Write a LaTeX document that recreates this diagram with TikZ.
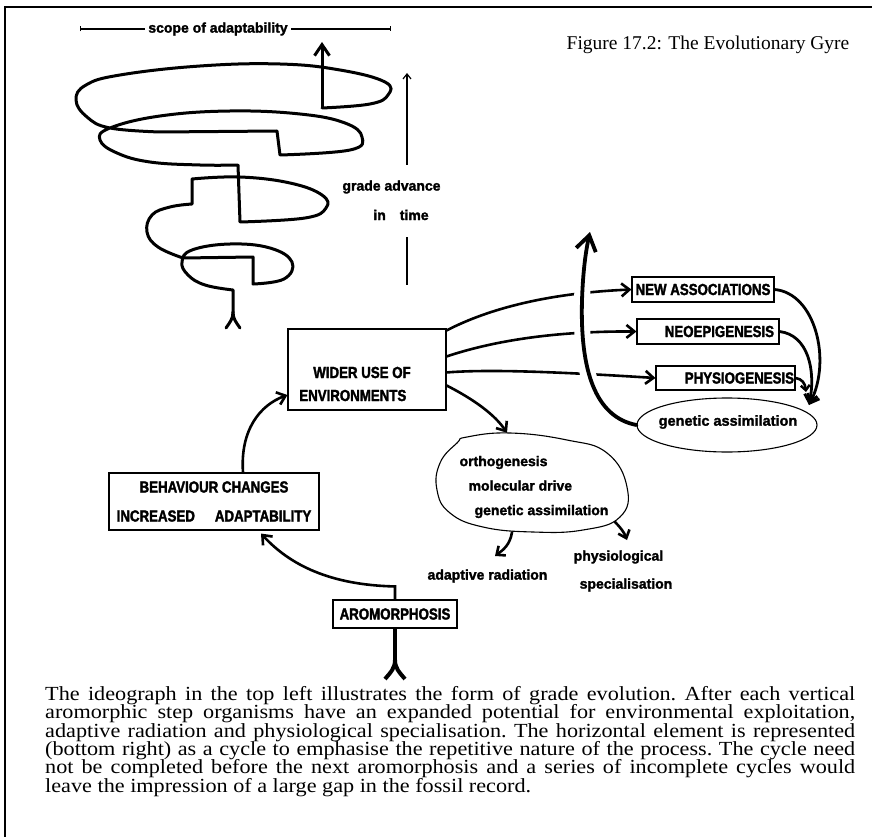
\documentclass[tikz,border=0pt]{standalone}
\usepackage{fontspec}
\setmainfont{Liberation Serif}
\newfontfamily\capsans{Liberation Sans}[FakeStretch=0.83,FakeBold=2]
\newfontfamily\lowsans{Liberation Sans}[FakeBold=1.8]
\newfontfamily\captserif{Liberation Serif}[FakeStretch=1.11]
\usetikzlibrary{arrows.meta,shapes.geometric}
\begin{document}
\begin{tikzpicture}[x=1pt,y=-1pt,
  box/.style={draw,line width=1.1pt,inner sep=0pt},
  oval/.style={draw,ellipse,line width=1.1pt,inner sep=0pt},
  caps/.style={font=\capsans\bfseries\fontsize{16}{18}\selectfont},
  lows/.style={font=\lowsans\bfseries\fontsize{14}{17}\selectfont,inner sep=1pt},
  conn/.style={line width=2.6pt,line cap=round,-{Straight Barb[length=8pt,width=13pt,line width=2.6pt]}},
  conntwo/.style={line width=2.8pt,line cap=round,-{Straight Barb[length=8pt,width=13pt,line width=2.8pt]}},
  bigarrow/.style={line width=3.8pt,line cap=round,-{Straight Barb[length=15pt,width=20pt,line width=3.8pt]},
     preaction={draw=white,line width=16pt,arrows=-,shorten <=14pt,shorten >=20pt}},
  gyre/.style={line width=3pt,line join=round,line cap=round},
  gyrearrow/.style={line width=3pt,-{Straight Barb[length=11pt,width=15pt,line width=3pt]}},
  thinline/.style={line width=1.2pt},
  stem/.style={line width=4pt}]
\useasboundingbox (0,0) rectangle (872,837);

% frame
\coordinate (frBL) at (5,837);
\coordinate (frTL) at (5,7);
\coordinate (frTR) at (872,7);
\draw[line width=2pt] (frBL) -- (frTL) -- (frTR);

% title
\node[font=\fontsize{19.5}{23}\selectfont] (title) at (708,45) {Figure 17.2: The Evolutionary Gyre};

% scope of adaptability
\coordinate (scL) at (80,29);
\coordinate (scR) at (391,29);
\draw[thinline,{Bar[width=5pt]}-{Bar[width=5pt]}] (scL) -- (scR);
\node[lows,fill=white,inner xsep=3pt] (scope) at (218,29) {scope of adaptability};

% gyre
\draw[gyre] (233,312) -- (233,290)
 -- plot[smooth,tension=0.7] coordinates {(233,290) (205,285) (188,275) (182,262) (192,250) (230,244) (270,248) (292,262) (284,279) (253,284)}
 -- (253,257) -- (183,258)
 -- plot[smooth,tension=0.7] coordinates {(183,258) (158,247) (147,232) (152,215) (170,207) (192,204)}
 -- (192,179)
 -- plot[smooth,tension=0.7] coordinates {(192,179) (240,177) (290,183) (322,195) (326,208) (305,218) (240,222)}
 -- (238,165)
 -- plot[smooth,tension=0.7] coordinates {(238,165) (200,165) (150,162) (117,153) (100,140) (110,128) (160,116) (230,111) (300,114) (345,123) (362,137) (350,150) (280,155)}
 -- (277,131) -- (160,132)
 -- plot[smooth,tension=0.7] coordinates {(160,132) (110,128) (87,117) (76,100) (86,85) (120,75) (200,66) (280,64) (340,70) (385,82) (388,95) (370,104) (322,108)};
\coordinate (gyA) at (322,108);
\coordinate (gyB) at (322,42);
\draw[gyrearrow] (gyA) -- (gyB);
\coordinate (gyfork) at (233,312);
\draw[gyre] (gyfork) .. controls (233,319) and (230,322) .. (226,328);
\draw[gyre] (gyfork) .. controls (233,319) and (236,322) .. (240,328);

% grade advance
\node[lows] (grade) at (391.5,187) {grade advance};
\node[lows] (intime) at (401,215) {in\hspace{14pt}time};
\coordinate (gaA) at (407,165);
\coordinate (gaB) at (407,73);
\coordinate (gaC) at (407,237);
\coordinate (gaD) at (407,285);
\draw[thinline,-{Straight Barb[length=5pt,width=8pt]}] (gaA) -- (gaB);
\draw[thinline] (gaC) -- (gaD);

% boxes
\node[box,minimum width=158pt,minimum height=81pt] (wider) at (367,369.5) {};
\node[caps,align=left,font=\capsans\bfseries\fontsize{16}{23}\selectfont] (widert) at (355,384) {\hspace*{14pt}WIDER USE OF\\ENVIRONMENTS};
\node[box,caps,align=center,minimum width=210pt,minimum height=57pt,font=\capsans\bfseries\fontsize{16}{29}\selectfont] (behav) at (214,501.5) {BEHAVIOUR CHANGES\\INCREASED\hspace{20pt}ADAPTABILITY};
\node[box,caps,minimum width=124pt,minimum height=28pt] (arom) at (395,614) {AROMORPHOSIS};
\node[box,caps,minimum width=142pt,minimum height=25pt] (newa) at (703,289.5) {NEW ASSOCIATIONS};
\node[box,caps,minimum width=142pt,minimum height=25pt,text width=132pt,align=right] (neo) at (708,331.5) {NEOEPIGENESIS};
\node[box,caps,minimum width=139pt,minimum height=24pt,text width=137pt,align=right] (phys) at (725.5,378) {PHYSIOGENESIS};

% ellipses
\node[oval,minimum width=180pt,minimum height=54pt] (gen) at (727,425) {};
\node[lows,font=\lowsans\bfseries\fontsize{14.5}{17}\selectfont] (gent) at (728,422) {genetic assimilation};
\node[ellipse,inner sep=0pt,minimum width=193pt,minimum height=98pt] (orth) at (531,483) {};
\draw[line width=1.1pt] plot[smooth cycle,tension=0.75] coordinates {(467,437) (510,433) (567,440) (607,453) (627,487) (620,517) (583,530) (533,532) (483,527) (450,513) (437,490) (440,463) (457,443)};
\node[lows,align=left,font=\lowsans\bfseries\fontsize{14}{24.5}\selectfont] (ortht) at (534,487) {orthogenesis\\\hspace*{9pt}molecular drive\\\hspace*{15pt}genetic assimilation};

% outcome labels
\node[lows] (adapt) at (487.5,576) {adaptive radiation};
\node[lows,align=left,font=\lowsans\bfseries\fontsize{14}{28}\selectfont] (physl) at (623,571) {physiological\\\hspace*{6pt}specialisation};

% cycle connectors
\draw[conn] ([xshift=29pt]behav.north) .. controls (240,430) and (260,405) .. ([yshift=-25.5pt]wider.west);
\draw[conn] (arom.north) -- ++(0,-13) .. controls (330,585) and (290,565) .. ([xshift=47pt,yshift=-3pt]behav.south);
\coordinate (aromfork) at (395,660);
\draw[stem] (arom.south) -- (aromfork);
\draw[stem] (aromfork) .. controls (395,668) and (391,672) .. (385,679);
\draw[stem] (aromfork) .. controls (395,668) and (399,672) .. (405,679);

% from wider
\draw[conn] ([yshift=-2pt]wider.north east) .. controls (490,308) and (550,293) .. (newa.west);
\draw[conn] ([yshift=-28pt]wider.north east) .. controls (490,342) and (550,331) .. (neo.west);
\draw[conn] ([yshift=-44pt]wider.north east) .. controls (490,369) and (560,372) .. (phys.west);
\draw[conn] ([yshift=-57pt]wider.north east) .. controls (475,400) and (495,415) .. ([xshift=-24pt,yshift=1pt]orth.north);

% into genetic assimilation
\coordinate (gentop) at (809,405);
\coordinate (gentopb) at (806,392);
\draw[conntwo] (newa.east) .. controls (815,293) and (832,360) .. (gentop);
\draw[conntwo] (neo.east) .. controls (808,335) and (816,370) .. (gentop);
\draw[conn,-{Straight Barb[length=5pt,width=9pt,line width=2.4pt]}] (phys.east) .. controls (802,379) and (805,383) .. (gentopb);

% big arrow
\draw[bigarrow] (gen.west) .. controls (595,417) and (580,370) .. (582,300) .. controls (583,270) and (586,250) .. (590,232);

% from orth
\coordinate (orthse) at (615,522);
\draw[conn,-{Straight Barb[length=7pt,width=12pt,line width=2.6pt]}] ([xshift=-19pt]orth.south) .. controls (510,545) and (503,550) .. (495,556);
\draw[conn,-{Straight Barb[length=7pt,width=12pt,line width=2.6pt]}] (orthse) .. controls (620,527) and (624,532) .. (627,540);

% caption
\node[anchor=north west,inner sep=0pt,text width=810pt,align=justify,font=\captserif\fontsize{20}{18.4}\selectfont] (caption) at (45,686) {\frenchspacing\noindent The ideograph in the top left illustrates the form of grade evolution. After each vertical\linebreak aromorphic step organisms have an expanded potential for environmental exploitation,\linebreak adaptive radiation and physiological specialisation. The horizontal element is represented\linebreak (bottom right) as a cycle to emphasise the repetitive nature of the process. The cycle need\linebreak not be completed before the next aromorphosis and a series of incomplete cycles would\linebreak leave the impression of a large gap in the fossil record.};
\end{tikzpicture}
\end{document}
